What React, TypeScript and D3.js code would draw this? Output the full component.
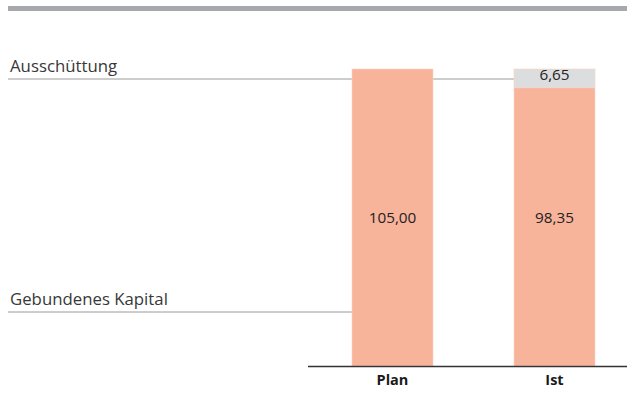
import React from "react";
import * as d3 from "d3";

const categories = ["Plan", "Ist"];
const gebundenesKapital = [105.0, 98.35];
const ausschuettung = [0, 6.65];
const rowLabels = ["Ausschüttung", "Gebundenes Kapital"];

const W = 627;
const H = 408;

export default function App() {
  const x = d3.scaleBand<string>().domain(categories).range([311.5, 635.5]).paddingInner(0.5).paddingOuter(0.25);
  const y = d3.scaleLinear().domain([0, 105]).range([366, 69]);
  const locale = d3.formatLocale({ decimal: ",", thousands: ".", grouping: [3], currency: ["", " €"] });
  const fmt = locale.format(".2f");

  const data = categories.map((c, i) => ({ cat: c, geb: gebundenesKapital[i], aus: ausschuettung[i] }));
  const stack = d3.stack<any>().keys(["geb", "aus"]);
  const series = stack(data);
  const colors: Record<string, string> = { geb: "#f8b39b", aus: "#dcdddf" };
  const font = "'Open Sans', 'Noto Sans', sans-serif";

  const total0 = gebundenesKapital[0] + ausschuettung[0];
  const yAusLine = y(total0) + 10;
  const yGebLine = 312;

  return (
    <svg width={W} height={H} style={{ position: "absolute", left: 0, top: 0, display: "block" }} fontFamily={font}>
      <rect x={8} y={6} width={W - 8} height={5} fill="#a7a8ab" />
      {/* row labels and guide lines */}
      <text x={10} y={72} fontSize={16.8} fill="#383838">{rowLabels[0]}</text>
      <line x1={8} x2={(x("Ist") as number)} y1={yAusLine} y2={yAusLine} stroke="#9a9a9a" strokeWidth={1} />
      <text x={10} y={305} fontSize={16.8} fill="#383838">{rowLabels[1]}</text>
      <line x1={8} x2={(x("Plan") as number)} y1={yGebLine} y2={yGebLine} stroke="#9a9a9a" strokeWidth={1} />
      {series.map((s) => (
        <g key={s.key}>
          {s.map((d, i) =>
            d[1] - d[0] > 0 ? (
              <rect
                key={i}
                x={x(categories[i])}
                y={y(d[1])}
                width={x.bandwidth()}
                height={y(d[0]) - y(d[1])}
                fill={colors[s.key]}
                stroke="#fbd3c4"
                strokeWidth={0.6}
              />
            ) : null
          )}
        </g>
      ))}
      {/* value labels */}
      {categories.map((c, i) => (
        <text key={"g" + c} x={(x(c) as number) + x.bandwidth() / 2} y={y(105 / 2) + 5.5} textAnchor="middle" fontSize={15.3} fill="#222">
          {fmt(gebundenesKapital[i])}
        </text>
      ))}
      {categories.map((c, i) =>
        ausschuettung[i] > 0 ? (
          <text key={"a" + c} x={(x(c) as number) + x.bandwidth() / 2} y={y(gebundenesKapital[i] + ausschuettung[i] / 2) + 2} textAnchor="middle" fontSize={15.3} fill="#222">
            {fmt(ausschuettung[i])}
          </text>
        ) : null
      )}
      {/* axis */}
      <line x1={308} x2={W} y1={366.5} y2={366.5} stroke="#333" strokeWidth={1.5} />
      {categories.map((c) => (
        <text key={"x" + c} x={(x(c) as number) + x.bandwidth() / 2} y={385} textAnchor="middle" fontSize={14.5} fontWeight="bold" fill="#1a1a1a">
          {c}
        </text>
      ))}
    </svg>
  );
}
